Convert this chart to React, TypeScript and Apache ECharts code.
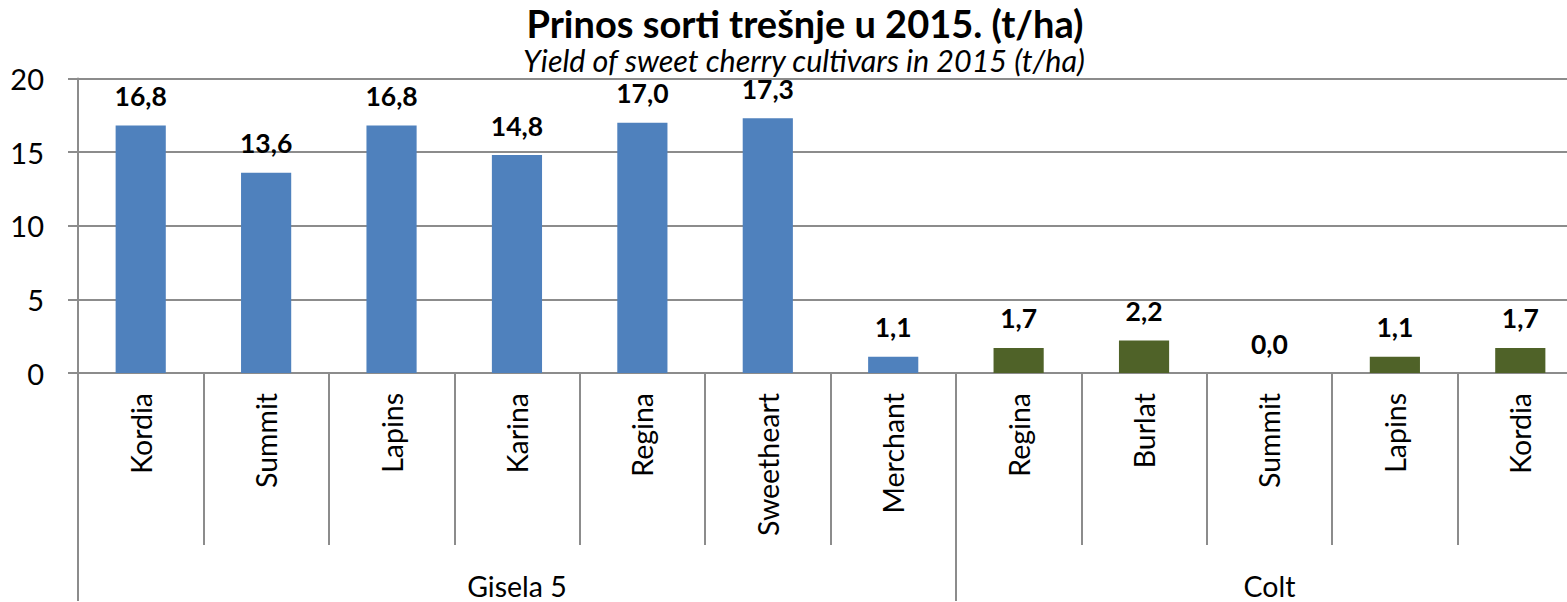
import React, { useEffect, useRef } from "react";
import * as echarts from "echarts";

const categories = ["Kordia", "Summit", "Lapins", "Karina", "Regina", "Sweetheart", "Merchant", "Regina", "Burlat", "Summit", "Lapins", "Kordia"];
const values = [16.8, 13.6, 16.8, 14.8, 17.0, 17.3, 1.1, 1.7, 2.2, 0.0, 1.1, 1.7];
const groupNames = ["Gisela 5", "Colt"];
const groupSizes = [7, 5];
const groupColors = ["#4F81BD", "#4F6228"];
const yTicks = [0, 5, 10, 15, 20];
const titleText = "Prinos sorti trešnje u 2015. (t/ha)";
const subtitleText = "Yield of sweet cherry cultivars in 2015 (t/ha)";

const FONT = "Lato";

export default function App() {
  const ref = useRef<HTMLDivElement>(null);
  useEffect(() => {
    if (!ref.current) return;
    document.body.style.overflow = "hidden";
    const chart = echarts.init(ref.current, null, { renderer: "svg" });
    const boundaries: number[] = [0];
    groupSizes.forEach((s) => boundaries.push(boundaries[boundaries.length - 1] + s));
    const centers = groupSizes.map((s, i) => boundaries[i] + s / 2);
    const total = boundaries[boundaries.length - 1];
    const groupIndex = (i: number) => {
      for (let g = 0; g < groupSizes.length; g++) if (i < boundaries[g + 1]) return g;
      return groupSizes.length - 1;
    };
    const axisColor = "#8C8C8C";
    chart.setOption({
      animation: false,
      backgroundColor: "#ffffff",
      title: [
        {
          text: titleText,
          left: 800,
          top: -1,
          textAlign: "center",
          textStyle: { fontFamily: FONT, fontWeight: "bold", fontSize: 38, color: "#000" },
        },
        {
          text: subtitleText,
          left: 799,
          top: 40,
          textAlign: "center",
          textStyle: { fontFamily: FONT, fontStyle: "italic", fontWeight: "normal", fontSize: 30.5, color: "#000" },
        },
      ],
      grid: { left: 78, top: 78.5, width: 1505, height: 294.5, containLabel: false },
      xAxis: [
        {
          type: "category",
          data: categories,
          position: "bottom",
          axisLine: { show: true, lineStyle: { color: axisColor, width: 2 } },
          axisTick: { show: true, interval: 0, length: 172, lineStyle: { color: axisColor, width: 2 } },
          axisLabel: {
            interval: 0,
            rotate: 90,
            margin: 20,
            fontFamily: FONT,
            fontSize: 28.5,
            color: "#000",
          },
        },
        {
          type: "value",
          min: 0,
          max: total,
          position: "bottom",
          offset: 172,
          axisLine: { show: false },
          splitLine: { show: false },
          axisTick: {
            show: true,
            customValues: boundaries,
            length: 56,
            lineStyle: { color: axisColor, width: 2 },
          },
          axisLabel: {
            customValues: centers,
            margin: 26,
            fontFamily: FONT,
            fontSize: 28.5,
            color: "#000",
            formatter: (v: number) => {
              const k = centers.indexOf(v);
              return k >= 0 ? groupNames[k] : "";
            },
          },
        },
      ],
      yAxis: {
        type: "value",
        min: 0,
        max: 20,
        interval: 5,
        axisLine: { show: true, lineStyle: { color: axisColor, width: 2 } },
        axisTick: { show: true, length: 10, lineStyle: { color: axisColor, width: 2 } },
        splitLine: { show: true, lineStyle: { color: axisColor, width: 2 } },
        axisLabel: {
          margin: 34,
          fontFamily: FONT,
          fontSize: 29,
          color: "#000",
          formatter: (v: number) => (yTicks.includes(v) ? String(v) : ""),
        },
      },
      series: [
        {
          type: "bar",
          xAxisIndex: 0,
          barWidth: "40%",
          data: values.map((v, i) => ({
            value: v,
            itemStyle: { color: groupColors[groupIndex(i)] },
          })),
          label: {
            show: true,
            position: "top",
            distance: 16,
            fontFamily: FONT,
            fontWeight: "bold",
            fontSize: 26.5,
            color: "#000",
            formatter: (p: any) => Number(p.value).toFixed(1).replace(".", ","),
          },
        },
      ],
    });
    return () => chart.dispose();
  }, []);
  return (
    <div
      ref={ref}
      style={{ position: "fixed", left: 0, top: 0, width: 1600, height: 602, background: "#fff" }}
    />
  );
}
